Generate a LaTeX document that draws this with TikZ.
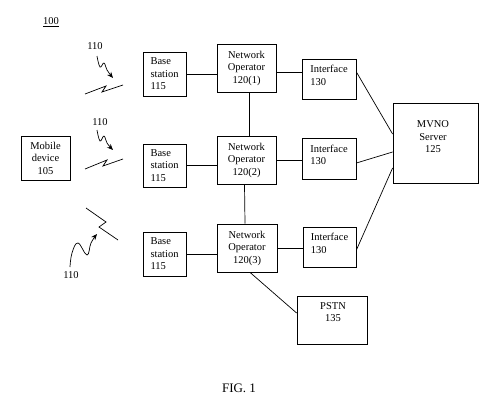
\documentclass[tikz,border=0pt]{standalone}
\usepackage{fontspec}
\setmainfont{Liberation Serif}
\usetikzlibrary{arrows.meta}
\begin{document}
\begin{tikzpicture}[x=1pt,y=-1pt,
  box/.style={draw, line width=0.8pt, inner sep=0pt, align=center, font=\fontsize{10.5}{12.5}\selectfont},
  txt/.style={inner sep=0pt, align=left, font=\fontsize{10.5}{12.5}\selectfont},
  link/.style={line width=0.7pt},
  squig/.style={line width=0.7pt, -{Stealth[length=6pt,width=5pt]}},
  bolt/.style={line width=0.7pt, line join=miter}]
\useasboundingbox (0,0) rectangle (500,404);

% reference label
\node[txt] (ref) at (51,22) {\underline{100}};

% boxes
\node[box, minimum width=49pt, minimum height=44pt] (mob) at (45.5,158) {Mobile\\device\\105};
\node[box, align=left, minimum width=43pt, minimum height=44pt] (bs1) at (164.5,74) {Base\\station\\115};
\node[box, align=left, minimum width=43pt, minimum height=43pt] (bs2) at (164.5,165.5) {Base\\station\\115};
\node[box, align=left, minimum width=43pt, minimum height=44pt] (bs3) at (164.5,254) {Base\\station\\115};
\node[box, minimum width=59pt, minimum height=48pt] (no1) at (246.5,68) {Network\\Operator\\120(1)};
\node[box, minimum width=59pt, minimum height=48pt] (no2) at (246.5,160) {Network\\Operator\\120(2)};
\node[box, minimum width=60pt, minimum height=48pt] (no3) at (247,248) {Network\\Operator\\120(3)};
\node[box, minimum width=54pt, minimum height=40pt] (if1) at (329,79) {};
\node[box, minimum width=54pt, minimum height=41pt] (if2) at (329,158.5) {};
\node[box, minimum width=53pt, minimum height=40pt] (if3) at (329.5,247) {};
\node[box, minimum width=85pt, minimum height=80pt] (mvno) at (435.5,143) {};
\node[box, minimum width=70pt, minimum height=48pt] (pstn) at (332,320) {};

% texts placed off-centre in boxes
\node[txt] (if1t) at (329,75.5) {Interface\\130};
\node[txt] (if2t) at (329,155) {Interface\\130};
\node[txt] (if3t) at (329.5,243.5) {Interface\\130};
\node[txt, align=center] (mvnot) at (433,137) {MVNO\\Server\\125};
\node[txt, align=center] (pstnt) at (333,312) {PSTN\\135};

% connectors
\draw[link] (bs1.east) -- (bs1.east -| no1.west);
\draw[link] (bs2.east) -- (bs2.east -| no2.west);
\draw[link] (bs3.east) -- (bs3.east -| no3.west);
\draw[link] ([yshift=7pt]if1.west) -- ([yshift=7pt]if1.west -| no1.east);
\draw[link] (no2.east) -- (no2.east -| if2.west);
\draw[link] (no3.east) -- (no3.east -| if3.west);
\draw[link] ([xshift=3pt]no1.south) -- ([xshift=3pt]no2.north);
\draw[link] ([xshift=-2pt]no2.south) -- ([xshift=-2pt]no3.north);
\draw[link] ([yshift=7pt]if1.east) -- ([yshift=9pt]mvno.west);
\draw[link] ([yshift=-4.5pt]if2.east) -- ([yshift=-9pt]mvno.west);
\draw[link] ([yshift=-3pt]if3.east) -- ([yshift=-25pt]mvno.west);
\draw[link] ([xshift=3pt]no3.south) -- ([yshift=7pt]pstn.west);

% wireless links
\coordinate (b1a) at (85,94);
\coordinate (b1b) at (123,85);
\draw[bolt] (b1a) -- (106,86) -- (102,92) -- (b1b);
\coordinate (b2a) at (85,169);
\coordinate (b2b) at (123,159);
\draw[bolt] (b2a) -- (107,160) -- (103,166) -- (b2b);
\coordinate (b3a) at (86,208);
\coordinate (b3b) at (118,240);
\draw[bolt] (b3a) -- (106,222) -- (99,227) -- (b3b);

% reference labels 110 with squiggly arrows
\node[txt] (l1) at (95,46) {110};
\node[txt] (l2) at (100,122) {110};
\node[txt] (l3) at (71,275) {110};
\draw[squig] plot[smooth, tension=0.7] coordinates {(97,56) (100,67) (104,63) (107,70) (113,78)};
\draw[squig] plot[smooth, tension=0.7] coordinates {(97,130) (100,141) (104,136) (107,143) (113,150)};
\draw[squig] plot[smooth, tension=0.7] coordinates {(70,267) (72,253) (78,243) (87,255) (91,243) (97,234)};

% caption
\node[inner sep=0pt, font=\fontsize{13}{15}\selectfont] (cap) at (239,388) {FIG. 1};
\end{tikzpicture}
\end{document}
